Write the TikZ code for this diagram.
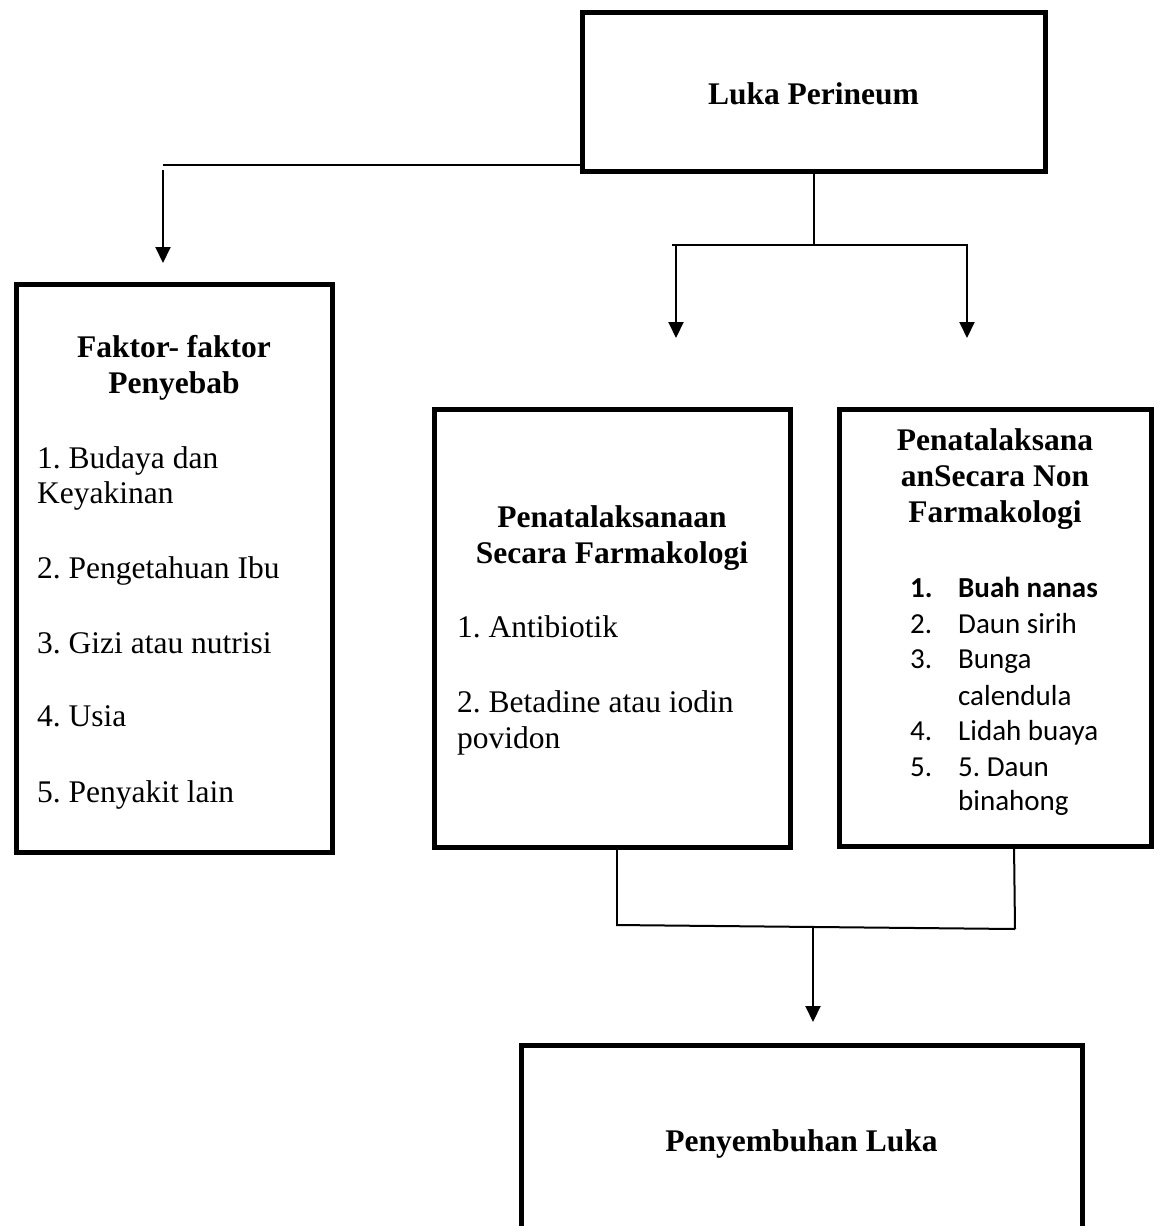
\documentclass[tikz,border=0pt]{standalone}
\usepackage{fontspec}
\setmainfont{Liberation Serif}
\newfontfamily\calib{Carlito}
\usetikzlibrary{arrows.meta}
\begin{document}
\frenchspacing
\begin{tikzpicture}[x=1pt,y=-1pt,
 box/.style={draw,line width=5pt,rectangle,inner sep=0pt,outer sep=0pt},
 conn/.style={line width=2pt},
 arr/.style={line width=2pt,-{Triangle[width=15pt,length=16pt]}},
 ttl/.style={font=\fontsize{31.5}{36}\selectfont\bfseries\frenchspacing,anchor=base,inner sep=0pt},
 itm/.style={font=\fontsize{31.5}{36}\selectfont\frenchspacing,anchor=base west,inner sep=0pt},
 citm/.style={font=\calib\fontsize{29}{35}\selectfont\frenchspacing,anchor=base west,inner sep=0pt}]
\clip (0,0) rectangle (1161,1226);
\fill[white] (0,0) rectangle (1161,1226);

% boxes
\node[box,minimum width=463pt,minimum height=159pt] (top) at (813.5,91.5) {};
\node[box,minimum width=316pt,minimum height=568pt] (left) at (174,568) {};
\node[box,minimum width=356pt,minimum height=438pt] (mid) at (612,628) {};
\node[box,minimum width=312pt,minimum height=437pt] (right) at (995,627.5) {};
\node[box,minimum width=561pt,minimum height=195pt] (bot) at (801.5,1142.5) {};

% texts
\node[ttl] (ttop) at (813.5,104) {Luka Perineum};
\node[ttl] (tl1) at (174,357) {Faktor- faktor};
\node[ttl] (tl2) at (174,393) {Penyebab};
\node[itm] (l1a) at (37,468) {1. Budaya dan};
\node[itm] (l1b) at (37,503) {Keyakinan};
\node[itm] (l2) at (37,578) {2. Pengetahuan Ibu};
\node[itm] (l3) at (37,653) {3. Gizi atau nutrisi};
\node[itm] (l4) at (37,726) {4. Usia};
\node[itm] (l5) at (37,802) {5. Penyakit lain};

\node[ttl] (tm1) at (612,527) {Penatalaksanaan};
\node[ttl] (tm2) at (612,563) {Secara Farmakologi};
\node[itm] (m1) at (457,637) {1. Antibiotik};
\node[itm] (m2a) at (457,712) {2. Betadine atau iodin};
\node[itm] (m2b) at (457,748) {povidon};

\node[ttl] (tr1) at (995,450) {Penatalaksana};
\node[ttl] (tr2) at (995,486) {anSecara Non};
\node[ttl] (tr3) at (995,522) {Farmakologi};
\node[citm,font=\calib\bfseries\fontsize{29}{35}\selectfont] (n1) at (910,597) {1.};
\node[citm,font=\calib\bfseries\fontsize{29}{35}\selectfont] (r1) at (958,597) {Buah nanas};
\node[citm] (n2) at (910,633) {2.};
\node[citm] (r2) at (958,633) {Daun sirih};
\node[citm] (n3) at (910,668) {3.};
\node[citm] (r3a) at (958,668) {Bunga};
\node[citm] (r3b) at (958,705) {calendula};
\node[citm] (n4) at (910,740) {4.};
\node[citm] (r4) at (958,740) {Lidah buaya};
\node[citm] (n5) at (910,776) {5.};
\node[citm] (r5a) at (958,776) {5. Daun};
\node[citm] (r5b) at (958,810) {binahong};

\node[ttl] (tbot) at (801.5,1151) {Penyembuhan Luka};

% connector coordinates
\coordinate (jl) at (163,165);
\coordinate (jls) at (163,170);
\coordinate (jle) at (163,263);
\coordinate (jm) at (813.5,245);
\coordinate (hL) at (672,245);
\coordinate (hR) at (968,245);
\coordinate (aLs) at (676,245);
\coordinate (aLe) at (676,338);
\coordinate (aRs) at (967,245);
\coordinate (aRe) at (967,338);
\coordinate (bL) at (617,924);
\coordinate (bR) at (1015,929);
\coordinate (bLh) at (616,925);
\coordinate (bRs) at (1014,844);
\coordinate (bM) at (813,927);
\coordinate (bMe) at (813,1022);

% connectors
\draw[conn] (top.west |- jl) -- (jl);
\draw[arr] (jls) -- (jle);
\draw[conn] (top.south) -- (jm);
\draw[conn] (hL) -- (hR);
\draw[arr] (aLs) -- (aLe);
\draw[arr] (aRs) -- (aRe);
\draw[conn] (mid.south -| bL) -- (bL);
\draw[conn] (bRs) -- (bR);
\draw[conn] (bLh) -- (bR);
\draw[arr] (bM) -- (bMe);
\end{tikzpicture}
\end{document}
